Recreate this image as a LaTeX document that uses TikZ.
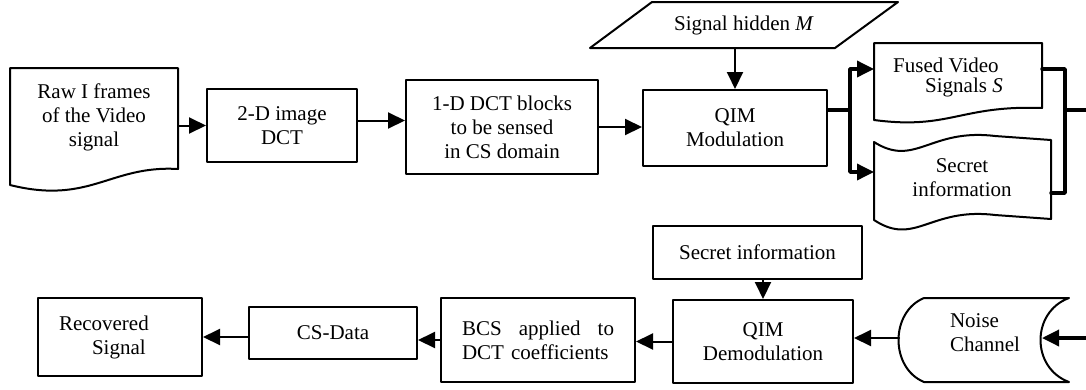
\documentclass[tikz,border=0pt]{standalone}
\usepackage{fontspec}
\setmainfont{Liberation Serif}
\usetikzlibrary{arrows.meta}

\begin{document}
\begin{tikzpicture}[line cap=round,line join=round,>={Triangle[length=17pt,width=16pt]},x=1pt,y=-1pt,
    every node/.style={font=\fontsize{21}{24}\selectfont},
    box/.style={draw,line width=2pt,align=center,inner sep=0pt},
    outline/.style={draw,line width=2pt},
    txt/.style={align=center,inner sep=0pt},
    flow/.style={->,line width=2pt},
    bus/.style={line width=3.5pt}]
    \useasboundingbox (0,0) rectangle (1086,389);

    % embedding chain
    \draw[outline] (10,68) -- (178,68) -- (178,169) .. controls (110,165) and (90,205) .. (10,185) -- cycle;
    \node[txt,minimum width=168pt] (raw) at (94,117) {Raw I frames\\of the Video\\signal};
    \node[box,minimum width=150pt,minimum height=73pt] (dct2) at (282,125.5) {2-D image\\DCT};
    \node[box,minimum width=192pt,minimum height=94pt] (dct1) at (502,127) {1-D DCT blocks\\to be sensed\\in CS domain};
    \node[box,minimum width=184pt,minimum height=76pt] (qim) at (735,128) {QIM\\Modulation};

    \draw[outline] (590,48) -- (652,2) -- (898,2) -- (835,48) -- cycle;
    \node[txt,minimum height=46pt] (hidden) at (744,25) {Signal hidden \textit{M}};

    \draw[flow] (raw.east |- dct2.west) -- (dct2.west);
    \draw[flow] ([yshift=5pt]dct2.east) -- ([yshift=5pt]dct2.east -| dct1.west);
    \draw[flow] (dct1.east) -- (dct1.east -| qim.west);
    \draw[flow] (qim.north |- hidden.south) -- (qim.north);

    % fused signal and secret data
    \draw[outline] (874,43) -- (1042,43) -- (1042,108) .. controls (960,105) and (950,130) .. (874,120) -- cycle;
    \node[txt,align=left,anchor=west] (fused) at (893,77) {Fused Video\\[-4pt]\hspace*{32pt}Signals \textit{S}};
    \draw[outline] (874,142) .. controls (915,168) and (930,128) .. (995,136) -- (1051,140) -- (1051,219)
        -- (995,215) .. controls (930,207) and (915,247) .. (874,220) -- cycle;
    \node[txt] (secret) at (962,178) {Secret\\information};

    \coordinate (split) at (850,110);
    \coordinate (fusedL) at (874,69);
    \coordinate (secretL) at (874,172);
    \coordinate (fusedR) at (1042,69);
    \coordinate (secretR) at (1051,193);
    \coordinate (merge) at (1065,110);
    \coordinate (busout) at (1086,110);

    \draw[bus] (qim.east |- split) -- (split);
    \draw[bus,->] (split) |- (fusedL);
    \draw[bus,->] (split) |- (secretL);
    \draw[bus] (fusedR) -| (merge) |- (secretR);
    \draw[bus] (merge) -- (busout);

    % extraction chain
    \draw[outline] (924,298) -- (1069,298) .. controls (1031,312) and (1031,368) .. (1069,382)
        -- (924,382) .. controls (890,368) and (890,312) .. (924,298) -- cycle;
    \node[txt,align=left] (noise) at (985,333) {Noise\\Channel};
    \coordinate (noiseL) at (899,338);
    \coordinate (noiseR) at (1042,338);
    \coordinate (chanin) at (1086,338);

    \node[box,minimum width=209pt,minimum height=53pt] (secinfo) at (757.5,252.5) {Secret information};
    \node[box,minimum width=180pt,minimum height=83pt] (qimd) at (763,341.5) {QIM\\Demodulation};
    \node[box,minimum width=194pt,minimum height=84pt,text width=152pt,align=left] (bcs) at (538,340) {BCS\hfill applied\hfill to\\DCT coefficients};
    \node[box,minimum width=168pt,minimum height=52pt] (csdata) at (333,333) {CS-Data};
    \node[box,minimum width=164pt,minimum height=78pt,text width=122pt,align=left] (recov) at (120,337) {Recovered\\\hspace*{33pt}Signal};

    \draw[bus,->] (chanin) -- (noiseR);
    \draw[flow] (noiseL) -- (noiseL -| qimd.east);
    \draw[flow] (qimd.north |- secinfo.south) -- (qimd.north);
    \draw[flow] (qimd.west) -- (qimd.west -| bcs.east);
    \draw[flow] (bcs.west) -- (bcs.west -| csdata.east);
    \draw[flow] (csdata.west |- recov.east) -- (recov.east);
\end{tikzpicture}
\end{document}
